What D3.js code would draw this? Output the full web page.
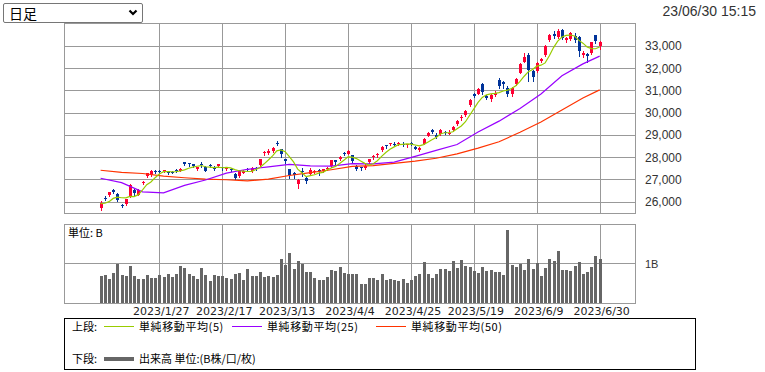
<!DOCTYPE html>
<html>
<head>
<meta charset="utf-8">
<script src="https://cdn.jsdelivr.net/npm/d3@7"></script>
<style>
  body { margin: 0; background: #fff; width: 765px; height: 372px; overflow: hidden; position: relative; }
  #span { position: absolute; left: 3px; top: 3px; width: 138px; height: 18px;
          border: 1px solid #767676; border-radius: 2px; background: #fff; z-index: 2; }
  #span span { position: absolute; left: 5px; top: 0; font-size: 14px; line-height: 18px;
               font-family: "Noto Sans CJK JP", sans-serif; color: #000; }
  #span svg { position: absolute; right: 4px; top: 5px; }
  #chart { position: absolute; left: 0; top: 0; }
</style>
</head>
<body>
<div id="span"><span>日足</span><svg width="10" height="8"><path d="M1.5,1.5 L5,5 L8.5,1.5" fill="none" stroke="#000" stroke-width="2.2"/></svg></div>
<svg id="chart" width="765" height="372"></svg>
<script>
// trading days shown (2023)
const dates = [
  "1/6","1/10","1/11","1/12","1/13","1/16","1/17","1/18","1/19","1/20","1/23","1/24","1/25","1/26","1/27","1/30","1/31",
  "2/1","2/2","2/3","2/6","2/7","2/8","2/9","2/10","2/13","2/14","2/15","2/16","2/17","2/20","2/21","2/22","2/24","2/27","2/28",
  "3/1","3/2","3/3","3/6","3/7","3/8","3/9","3/10","3/13","3/14","3/15","3/16","3/17","3/20","3/22","3/23","3/24","3/27","3/28","3/29","3/30","3/31",
  "4/3","4/4","4/5","4/6","4/7","4/10","4/11","4/12","4/13","4/14","4/17","4/18","4/19","4/20","4/21","4/24","4/25","4/26","4/27","4/28",
  "5/1","5/2","5/8","5/9","5/10","5/11","5/12","5/15","5/16","5/17","5/18","5/19","5/22","5/23","5/24","5/25","5/26","5/29","5/30","5/31",
  "6/1","6/2","6/5","6/6","6/7","6/8","6/9","6/12","6/13","6/14","6/15","6/16","6/19","6/20","6/21","6/22","6/23","6/26","6/27","6/28","6/29","6/30"
];

const openP = [
  25760,26210,26330,26540,26390,25860,25920,26260,26540,26330,
  26880,27150,27200,27400,27420,27390,27410,27380,27460,27420,
  27790,27740,27710,27500,27720,27590,27660,27590,27600,27580,
  27490,27500,27270,27170,27330,27480,27380,27550,27650,28180,
  28230,28300,28660,28380,27930,27480,27330,26850,27390,27100,
  27280,27360,27450,27400,27500,27600,27880,27950,28230,28170,
  28100,27620,27560,27560,27800,28030,28090,28350,28560,28600,
  28620,28600,28600,28540,28680,28500,28370,28650,29000,29250,
  29040,29050,29170,29100,29250,29500,29780,29900,30370,30880,
  30880,31300,30780,30620,30820,31500,31400,31150,30900,31300,
  31800,32300,32600,31900,31900,32350,32600,33280,33560,33420,
  33740,33300,33320,33450,33400,32620,32650,32700,33500,33000
];
const highP = [
  26040,26300,26480,26580,26420,25900,26160,26830,26600,26580,
  26960,27330,27440,27460,27460,27460,27420,27420,27500,27550,
  27820,27780,27720,27600,27800,27610,27710,27640,27720,27600,
  27560,27540,27300,27470,27440,27520,27560,27580,27960,28280,
  28380,28460,28734,28400,27960,27500,27350,27060,27520,27130,
  27520,27450,27480,27500,27560,27900,27900,28060,28250,28330,
  28120,27650,27600,27700,27950,28100,28200,28520,28580,28680,
  28690,28700,28720,28610,28700,28530,28480,28880,29150,29280,
  29090,29280,29200,29250,29400,29680,29900,30120,30620,30924,
  31120,31352,30830,30840,31000,31560,31420,31200,31160,31560,
  32230,32710,32708,31950,32300,32480,33050,33550,33700,33760,
  33772,33420,33620,33600,33450,32800,32700,33200,33527,33250
];
const lowP = [
  25661,26100,26300,26420,26060,25780,25880,26220,26340,26310,
  26840,27130,27180,27300,27330,27340,27280,27300,27370,27400,
  27650,27640,27580,27470,27580,27410,27560,27470,27560,27470,
  27460,27400,27060,27150,27300,27400,27350,27450,27620,28140,
  28180,28240,28560,28030,27760,27090,27100,26630,27190,26860,
  27250,27300,27220,27350,27460,27580,27700,27900,28120,28150,
  27790,27427,27450,27500,27760,27950,28050,28320,28430,28560,
  28540,28560,28520,28490,28560,28380,28300,28600,28990,29100,
  28880,29030,29060,29070,29200,29450,29700,29850,30300,30720,
  30850,30860,30620,30560,30760,31150,31150,30760,30780,31280,
  31780,32280,31450,31420,31850,32300,32580,33250,33380,33380,
  33330,33200,33280,33200,32575,32500,32306,32650,33130,32900
];
const closeP = [
  25974,26175,26446,26449,26119,25822,26138,26791,26405,26553,
  26906,27299,27395,27362,27382,27433,27327,27346,27402,27509,
  27693,27685,27606,27584,27670,27427,27602,27501,27696,27513,
  27531,27473,27104,27453,27423,27445,27516,27498,27927,28237,
  28309,28444,28623,28143,27832,27222,27229,27010,27333,26945,
  27466,27419,27385,27476,27518,27883,27782,28041,28188,28287,
  27813,27472,27518,27633,27923,28082,28156,28493,28514,28658,
  28606,28657,28564,28593,28620,28416,28457,28856,29123,29157,
  28949,29242,29122,29126,29388,29626,29842,30093,30573,30808,
  31086,30957,30682,30801,30916,31233,31328,30887,31148,31524,
  32217,32506,31913,31641,32265,32434,33018,33502,33485,33706,
  33370,33388,33575,33264,32781,32698,32538,33193,33234,33189
];

// volume, unit B
const volume = [
  0.68,0.71,0.61,0.76,0.99,0.71,0.68,0.93,0.68,0.61,
  0.61,0.71,0.63,0.63,0.71,0.66,0.73,0.66,0.73,0.93,
  0.88,0.73,0.68,0.61,0.88,0.71,0.56,0.71,0.68,0.68,
  0.63,0.61,0.73,0.76,0.58,0.86,0.68,0.68,0.78,0.66,
  0.68,0.66,0.71,1.11,0.96,1.26,0.86,1.06,1.00,0.78,
  0.78,0.63,0.58,0.58,0.66,0.83,0.81,0.91,0.76,0.73,
  0.73,0.73,0.48,0.48,0.63,0.63,0.58,0.73,0.58,0.61,
  0.58,0.56,0.61,0.51,0.58,0.68,0.73,1.03,0.73,0.63,
  0.73,0.86,0.86,0.81,1.06,0.88,1.08,0.93,0.91,0.81,
  0.76,0.91,0.81,0.83,0.78,0.78,0.71,1.83,0.96,0.91,
  0.98,0.83,1.11,0.86,1.01,0.68,0.88,1.11,1.06,1.31,
  0.83,0.83,0.81,0.93,1.03,0.73,0.78,0.91,1.18,1.11
];

// moving averages
const ma5 = [
  25940,25956,26026,26173,26233,26202,26195,26264,26255,26342,
  26559,26791,26912,27103,27269,27374,27380,27370,27378,27403,
  27455,27527,27579,27615,27648,27594,27578,27557,27579,27548,
  27569,27543,27463,27415,27397,27380,27388,27467,27562,27725,
  27897,28083,28308,28351,28270,28053,27810,27487,27325,27148,
  27197,27235,27310,27338,27453,27536,27609,27740,27882,28036,
  28022,27960,27856,27745,27672,27726,27862,28057,28234,28381,
  28485,28586,28600,28616,28608,28570,28530,28588,28694,28802,
  28908,29065,29119,29119,29165,29301,29421,29615,29904,30188,
  30480,30703,30821,30867,30888,30918,30992,31033,31102,31224,
  31421,31656,31862,31960,32108,32152,32254,32572,32941,33229,
  33416,33490,33505,33461,33276,33141,32971,32895,32889,32970
];
const maDays = [0,5,10,15,20,25,30,35,40,45,50,55,60,65,70,75,80,85,90,95,100,105,110,115,119];
const ma25 = [27077,26880,26470,26420,26760,27000,27310,27480,27590,27700,27630,27620,27730,27720,27800,28060,28330,28590,29150,29640,30210,30860,31680,32210,32560];
const ma50 = [27436,27340,27290,27170,27100,27040,27010,26963,27037,27200,27330,27460,27610,27645,27745,27845,27975,28170,28430,28715,29140,29600,30140,30680,31045];

const yTicks = [26000,27000,28000,29000,30000,31000,32000,33000];
const xTickLabels = ["2023/1/27","2023/2/17","2023/3/13","2023/4/4","2023/4/25","2023/5/19","2023/6/9","2023/6/30"];
const stamp = "23/06/30 15:15";

const upColor = "#ff0033", downColor = "#003399";
const gridColor = "#999";

const svg = d3.select("#chart");

// scales
const x = d3.scaleLinear().domain([-8.73, 127.66]).range([64, 636]);
const y = d3.scaleLinear().domain([25500, 34000]).range([213.4, 24]);
const yv = d3.scaleLinear().domain([0, 2]).range([303.5, 223.5]);
const px = i => Math.round(x(i)) + 0.5;
const crisp = v => Math.floor(v) + 0.5;
const tickIdx = xTickLabels.map(s => dates.indexOf(s.replace("2023/", "")));

const font = "'Liberation Sans', Arial, sans-serif";
const jp = "'Noto Sans CJK JP', sans-serif";

// timestamp
svg.append("text").attr("x", 756).attr("y", 16).attr("text-anchor", "end")
  .style("font", `14px ${font}`).attr("fill", "#333").text(stamp);

// price panel grid
const main = svg.append("g");
main.selectAll("line.h").data(yTicks).join("line").attr("class", "h")
  .attr("x1", 64).attr("x2", 636)
  .attr("y1", d => crisp(y(d))).attr("y2", d => crisp(y(d)))
  .attr("stroke", gridColor);
main.selectAll("line.v").data(tickIdx).join("line").attr("class", "v")
  .attr("x1", d => px(d)).attr("x2", d => px(d)).attr("y1", 23.5).attr("y2", 213.5)
  .attr("stroke", gridColor);
main.append("rect").attr("x", 64.5).attr("y", 23.5).attr("width", 571).attr("height", 190)
  .attr("fill", "none").attr("stroke", gridColor);
main.selectAll("text.yl").data(yTicks).join("text").attr("class", "yl")
  .attr("x", 645).attr("y", d => y(d) + 4)
  .style("font", `12px ${font}`).attr("fill", "#333")
  .text(d => d3.format(",")(d));

// candles
const days = d3.range(dates.length);
main.selectAll("line.wick").data(days).join("line").attr("class", "wick")
  .attr("x1", px).attr("x2", px)
  .attr("y1", i => Math.round(y(highP[i]))).attr("y2", i => Math.round(y(lowP[i])) + 1)
  .attr("stroke", i => closeP[i] >= openP[i] ? upColor : downColor);
main.selectAll("rect.body").data(days).join("rect").attr("class", "body")
  .attr("x", i => Math.round(x(i)) - 1).attr("width", 3)
  .attr("y", i => Math.round(y(Math.max(openP[i], closeP[i]))))
  .attr("height", i => Math.max(1, Math.round(Math.abs(y(openP[i]) - y(closeP[i])))))
  .attr("fill", i => closeP[i] >= openP[i] ? upColor : downColor);

// moving average lines
const line = d3.line().x(d => x(d[0])).y(d => y(d[1]));
const maSeries = [
  { pts: ma50.map((v, k) => [maDays[k], v]), color: "#ff3300" },
  { pts: ma25.map((v, k) => [maDays[k], v]), color: "#9900ff" },
  { pts: ma5.map((v, i) => [i, v]), color: "#99cc00" }
];
main.selectAll("path.ma").data(maSeries).join("path").attr("class", "ma")
  .attr("d", d => line(d.pts)).attr("fill", "none")
  .attr("stroke", d => d.color).attr("stroke-width", 1.2);

// volume panel
const vol = svg.append("g");
vol.append("line").attr("x1", 64).attr("x2", 636).attr("y1", crisp(yv(1))).attr("y2", crisp(yv(1)))
  .attr("stroke", gridColor);
vol.selectAll("line.v").data(tickIdx).join("line").attr("class", "v")
  .attr("x1", d => px(d)).attr("x2", d => px(d)).attr("y1", 224.5).attr("y2", 303.5)
  .attr("stroke", gridColor);
vol.selectAll("rect.bar").data(days).join("rect").attr("class", "bar")
  .attr("x", i => Math.round(x(i)) - 1).attr("width", 3)
  .attr("y", i => Math.round(yv(volume[i])))
  .attr("height", i => 303.5 - Math.round(yv(volume[i])))
  .attr("fill", "#666");
vol.append("rect").attr("x", 64.5).attr("y", 224.5).attr("width", 571).attr("height", 79)
  .attr("fill", "none").attr("stroke", gridColor);
vol.append("text").attr("x", 68).attr("y", 237).style("font", `11px ${jp}`).attr("fill", "#000").text("単位: B");
vol.append("text").attr("x", 645).attr("y", yv(1) + 4).style("font", `11px ${font}`).attr("fill", "#333").text("1B");

// x labels
svg.selectAll("text.xl").data(tickIdx).join("text").attr("class", "xl")
  .attr("x", d => x(d) + 2).attr("y", 315).attr("text-anchor", "middle")
  .style("font", "11px 'DejaVu Sans', sans-serif").attr("fill", "#222")
  .text((d, k) => xTickLabels[k]);

// legend
const lg = svg.append("g");
lg.append("rect").attr("x", 64.5).attr("y", 318.5).attr("width", 631).attr("height", 51)
  .attr("fill", "none").attr("stroke", "#000");
lg.append("text").attr("x", 72).attr("y", 331).style("font", `11px ${jp}`).text("上段:");
lg.append("text").attr("x", 72).attr("y", 363).style("font", `11px ${jp}`).text("下段:");
const legendItems = [
  { x: 104, label: "単純移動平均(5)", color: "#99cc00" },
  { x: 232, label: "単純移動平均(25)", color: "#9900ff" },
  { x: 376, label: "単純移動平均(50)", color: "#ff3300" }
];
const li = lg.selectAll("g.item").data(legendItems).join("g").attr("class", "item")
  .attr("transform", d => `translate(${d.x},0)`);
li.append("line").attr("x1", 0).attr("x2", 30).attr("y1", 326.5).attr("y2", 326.5)
  .attr("stroke", d => d.color);
li.append("text").attr("x", 35).attr("y", 331).style("font", `11px ${jp}`)
  .attr("letter-spacing", 0.6).text(d => d.label);
lg.append("line").attr("x1", 104).attr("x2", 134).attr("y1", 359).attr("y2", 359)
  .attr("stroke", "#666").attr("stroke-width", 4);
lg.append("text").attr("x", 139).attr("y", 363).style("font", `11px ${jp}`).text("出来高 単位:(B株/口/枚)");
</script>
</body>
</html>
